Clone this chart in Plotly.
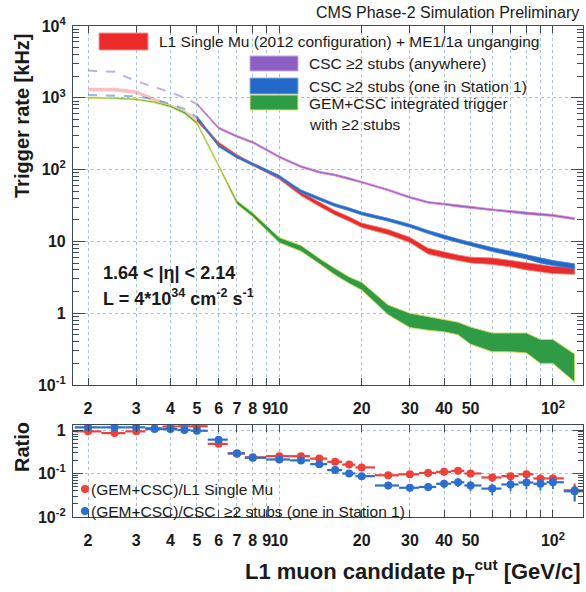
import plotly.graph_objects as go
from plotly.subplots import make_subplots

# ---------------- data ----------------
pt = [2, 2.5, 3, 3.5, 4, 4.5, 5, 6, 7, 8, 10, 12, 14, 16, 18, 20, 25, 30, 35,
      40, 45, 50, 60, 70, 80, 90, 100, 120]

# L1 Single Mu (2012 configuration) + ME1/1a unganging  [kHz]
rate_l1 = [1300, 1300, 1200, 950, 780, 640, 500, 230, 155, 118, 78, 46, 33, 25,
           20.5, 16.8, 13.5, 10.5, 7.3, 6.5, 5.9, 5.5, 5.3, 4.9, 4.5, 4.2, 4.0, 3.9]
# band half-width in decades
rate_l1_w = [0.025, 0.025, 0.025, 0.025, 0.025, 0.025, 0.025, 0.02, 0.02, 0.02,
             0.025, 0.025, 0.03, 0.03, 0.03, 0.03, 0.035, 0.035, 0.04, 0.04, 0.04,
             0.04, 0.045, 0.045, 0.05, 0.05, 0.05, 0.05]

# CSC >=2 stubs (anywhere)
rate_any = [2400, 2300, 1700, 1400, 1200, 1000, 820, 380, 290, 240, 150, 110, 92,
            84, 75, 67, 52, 41, 35, 33, 31, 30, 27.5, 26, 24.5, 23.5, 23, 20.7]
rate_any_w = [0.012, 0.012, 0.012, 0.012, 0.012, 0.012, 0.012, 0.012, 0.012, 0.012,
              0.012, 0.012, 0.012, 0.012, 0.012, 0.012, 0.012, 0.012, 0.012, 0.012,
              0.012, 0.012, 0.013, 0.013, 0.013, 0.013, 0.014, 0.014]

# CSC >=2 stubs (one in Station 1)
rate_st1 = [1090, 1080, 1050, 950, 820, 700, 540, 215, 150, 118, 80, 50, 39, 32,
            28, 24.5, 20, 16.5, 13.5, 11.5, 10.2, 9.2, 7.7, 6.8, 6.1, 5.4, 5.0, 4.5]
rate_st1_w = [0.015, 0.015, 0.015, 0.015, 0.015, 0.015, 0.015, 0.015, 0.015, 0.015,
              0.015, 0.018, 0.018, 0.02, 0.02, 0.02, 0.02, 0.022, 0.022, 0.025,
              0.025, 0.025, 0.028, 0.03, 0.03, 0.035, 0.035, 0.035]

# GEM+CSC integrated trigger with >=2 stubs (band low / high)
rate_gem_lo = [980, 970, 930, 850, 740, 600, 430, 110, 33, 22, 9.6, 7.3, 4.9, 3.4,
               2.6, 2.1, 0.95, 0.63, 0.58, 0.55, 0.5, 0.37, 0.29, 0.29, 0.28, 0.2,
               0.2, 0.11]
rate_gem_hi = [1020, 1010, 970, 890, 780, 640, 460, 120, 37, 25, 11.3, 8.8, 5.8, 4.2,
               3.2, 2.7, 1.3, 1.0, 0.89, 0.8, 0.75, 0.64, 0.53, 0.53, 0.53, 0.43,
               0.43, 0.27]

# Ratio panel
ratio_l1 = [0.93, 0.85, 0.93, 1.1, 1.2, 1.22, 1.22, 0.48, 0.29, 0.235, 0.25, 0.25,
            0.22, 0.186, 0.16, 0.138, 0.091, 0.096, 0.103, 0.109, 0.115, 0.1, 0.081,
            0.087, 0.096, 0.077, 0.077, 0.041]
ratio_l1_rel = [0.1, 0.1, 0.1, 0.1, 0.1, 0.1, 0.1, 0.1, 0.08, 0.08, 0.1, 0.1, 0.1,
                0.12, 0.12, 0.12, 0.15, 0.15, 0.15, 0.18, 0.18, 0.18, 0.2, 0.2, 0.2,
                0.22, 0.22, 0.45]
ratio_st1 = [1.15, 1.15, 1.15, 1.05, 1.05, 1.0, 0.96, 0.6, 0.29, 0.23, 0.21, 0.2,
             0.164, 0.12, 0.1, 0.087, 0.053, 0.047, 0.049, 0.058, 0.063, 0.053,
             0.045, 0.056, 0.062, 0.058, 0.063, 0.039]
ratio_st1_rel = [0.08, 0.08, 0.08, 0.08, 0.08, 0.08, 0.08, 0.1, 0.08, 0.08, 0.1, 0.1,
                 0.1, 0.12, 0.12, 0.12, 0.18, 0.18, 0.2, 0.22, 0.22, 0.25, 0.3, 0.3,
                 0.3, 0.3, 0.3, 0.4]

x_tickvals = [2, 3, 4, 5, 6, 7, 8, 9, 10, 20, 30, 40, 50, 60, 70, 80, 90, 100]
x_ticktext = ["2", "3", "4", "5", "6", "7", "8", "9", "10", "20", "30", "40", "50",
              "", "", "", "", "10<sup>2</sup>"]
y_tickvals = [0.1, 1, 10, 100, 1000, 10000]
y_ticktext = ["10<sup>-1</sup>", "1", "10", "10<sup>2</sup>", "10<sup>3</sup>",
              "10<sup>4</sup>"]
r_tickvals = [0.01, 0.1, 1]
r_ticktext = ["10<sup>-2</sup>", "10<sup>-1</sup>", "1"]

# ---------------- styling ----------------
W, H = 586, 592
ML, MR, MT, MB = 73, 3, 26, 75
FONT = "Liberation Sans, Arial, Helvetica, sans-serif"
RED, PURPLE, BLUE, GREEN = "#ea2b2a", "#8b5fc4", "#2369c8", "#2f9c45"
GRID = "#a8c2d4"


def pxx(x):
    return (x - ML) / (W - ML - MR)


def pxy(y):
    return (H - MB - y) / (H - MT - MB)


fig = make_subplots(rows=2, cols=1, shared_xaxes=False, vertical_spacing=0.0)


def band(xs, lo, hi, fillcolor, linecolor, lw, row=1):
    fig.add_trace(go.Scatter(x=list(xs) + list(xs)[::-1], y=list(hi) + list(lo)[::-1],
                             fill="toself", fillcolor=fillcolor, mode="lines",
                             line=dict(color=linecolor, width=lw), hoverinfo="skip",
                             showlegend=False), row=row, col=1)


def central_band(vals, w):
    lo = [v / 10 ** d for v, d in zip(vals, w)]
    hi = [v * 10 ** d for v, d in zip(vals, w)]
    return lo, hi


SPLIT = pt.index(5)
lowx, highx = pt[:SPLIT + 1], pt[SPLIT:]

# pale low-pT segments
lo, hi = central_band(rate_l1, rate_l1_w)
band(lowx, lo[:SPLIT + 1], hi[:SPLIT + 1], "rgba(240,120,120,0.45)", "rgba(240,120,120,0.0)", 0)
fig.add_trace(go.Scatter(x=lowx, y=rate_any[:SPLIT + 1], mode="lines",
                         line=dict(color="rgba(150,120,215,0.6)", width=2, dash="dash"),
                         showlegend=False, hoverinfo="skip"), row=1, col=1)
fig.add_trace(go.Scatter(x=lowx, y=rate_st1[:SPLIT + 1], mode="lines",
                         line=dict(color="rgba(60,120,210,0.55)", width=2, dash="dash"),
                         showlegend=False, hoverinfo="skip"), row=1, col=1)

# main bands
lo, hi = central_band(rate_any, rate_any_w)
band(highx, lo[SPLIT:], hi[SPLIT:], PURPLE, "rgba(220,130,200,0.8)", 1)
lo, hi = central_band(rate_l1, rate_l1_w)
band(highx, lo[SPLIT:], hi[SPLIT:], RED, "rgba(245,120,110,0.8)", 1)
lo, hi = central_band(rate_st1, rate_st1_w)
band(highx, lo[SPLIT:], hi[SPLIT:], BLUE, "rgba(70,130,220,0.8)", 1)
band(pt, rate_gem_lo, rate_gem_hi, GREEN, "rgba(210,220,90,0.9)", 1)


# ratio points with error bars
def xerr(xs):
    minus, plus = [], []
    for i, x in enumerate(xs):
        prev = xs[i - 1] if i > 0 else x * x / xs[i + 1]
        nxt = xs[i + 1] if i < len(xs) - 1 else x * x / xs[i - 1]
        minus.append(x - (x * prev) ** 0.5)
        plus.append((x * nxt) ** 0.5 - x)
    return minus, plus


mx, px_ = xerr(pt)
for vals, rel, col in [(ratio_l1, ratio_l1_rel, "#f0403a"), (ratio_st1, ratio_st1_rel, "#2a6fd0")]:
    fig.add_trace(go.Scatter(
        x=pt, y=vals, mode="markers",
        marker=dict(color=col, size=8, line=dict(width=0)),
        error_x=dict(type="data", symmetric=False, array=px_, arrayminus=mx,
                     color=col, thickness=2.2, width=0),
        error_y=dict(type="data", symmetric=True, array=[v * r for v, r in zip(vals, rel)],
                     color=col, thickness=1.8, width=0),
        showlegend=False, hoverinfo="skip"), row=2, col=1)

axis_common = dict(
    type="log", showline=True, linecolor="#3c4a55", linewidth=1.2, mirror="ticks",
    ticks="inside", tickcolor="#3c4a55", showgrid=True, gridcolor=GRID,
    griddash="dot", gridwidth=1, zeroline=False,
    tickfont=dict(family=FONT, size=16, color="#1a1a1a", weight="bold"),
)
xrange_ = [0.2461, 2.1098]
for ax in ["xaxis", "xaxis2"]:
    fig.update_layout({ax: dict(axis_common, range=xrange_, tickmode="array",
                                tickvals=x_tickvals, ticktext=x_ticktext, ticklen=7,
                                tickangle=0, ticklabelstandoff=9)})
fig.update_layout(
    yaxis=dict(axis_common, domain=[pxy(385), 1.0], range=[-1, 4], tickmode="array",
               tickvals=y_tickvals, ticktext=y_ticktext, ticklen=12,
               ticklabelstandoff=3,
               minor=dict(tickmode="array",
                          tickvals=[m * 10 ** e for e in range(-1, 4) for m in range(2, 10)],
                          ticks="inside", ticklen=6, tickcolor="#3c4a55", showgrid=False)),
    yaxis2=dict(axis_common, domain=[0.0, pxy(425)], range=[-2, 0.115], tickmode="array",
                tickvals=r_tickvals, ticktext=r_ticktext, ticklen=10,
                ticklabelstandoff=3,
                minor=dict(tickmode="array",
                           tickvals=[m * 10 ** e for e in range(-2, 1) for m in range(2, 10)],
                           ticks="inside", ticklen=5, tickcolor="#3c4a55", showgrid=False)),
)

shapes = []
annotations = []


def text(x, y, s, size, bold=False, anchor="left", angle=0, yanchor="middle"):
    annotations.append(dict(x=pxx(x), y=pxy(y), xref="paper", yref="paper", text=s,
                            showarrow=False, xanchor=anchor, yanchor=yanchor,
                            textangle=angle,
                            font=dict(family=FONT, size=size, color="#1a1a1a",
                                      weight="bold" if bold else "normal")))


def rect(x0, y0, x1, y1, color, border):
    shapes.append(dict(type="rect", xref="paper", yref="paper", x0=pxx(x0), x1=pxx(x1),
                       y0=pxy(y1), y1=pxy(y0), fillcolor=color,
                       line=dict(color=border, width=1)))


text(581, 12.5, "CMS Phase-2 Simulation Preliminary", 16, anchor="right")
rect(99, 33, 148, 50, RED, "#f29a9a")
text(157, 42, "L1 Single Mu (2012 configuration) + ME1/1a unganging", 15.5)
rect(250, 56, 298, 71, PURPLE, "#c9a9e6")
text(307, 63.5, "CSC ≥2 stubs (anywhere)", 15.5)
rect(250, 78, 298, 94, BLUE, "#86b0e6")
text(307, 86, "CSC ≥2 stubs (one in Station 1)", 15.5)
rect(250, 95, 298, 110, GREEN, "#e4e27a")
text(307, 103, "GEM+CSC integrated trigger", 15.5)
text(307, 125, "with ≥2 stubs", 15.5)

text(101, 273, "1.64 &lt; |η| &lt; 2.14", 18, bold=True)
text(101, 297, "L = 4*10<sup>34</sup> cm<sup>-2</sup> s<sup>-1</sup>", 18, bold=True)

for y, col, s in [(489, "#f0403a", "(GEM+CSC)/L1 Single Mu"),
                  (511, "#2a6fd0", "(GEM+CSC)/CSC  ≥2 stubs (one in Station 1)")]:
    shapes.append(dict(type="circle", xref="paper", yref="paper",
                       x0=pxx(81), x1=pxx(89), y0=pxy(y + 4), y1=pxy(y - 4),
                       fillcolor=col, line=dict(width=0)))
    text(89, y, s, 15.5)

text(22, 32, "Trigger rate [kHz]", 20, bold=True, anchor="center", angle=-90, yanchor="top")
text(22, 447, "Ratio", 20, bold=True, anchor="center", angle=-90)
text(583, 571, "L1 muon candidate p<sub>T</sub><sup>cut</sup> [GeV/c]", 22, bold=True,
     anchor="right")

fig.update_layout(
    width=W, height=H, margin=dict(l=ML, r=MR, t=MT, b=MB),
    paper_bgcolor="white", plot_bgcolor="white", showlegend=False,
    font=dict(family=FONT), shapes=shapes, annotations=annotations,
)

fig.write_html("out.html", config={"displayModeBar": False},
               post_script="document.body.style.margin='0px';document.body.style.overflow='hidden';")
